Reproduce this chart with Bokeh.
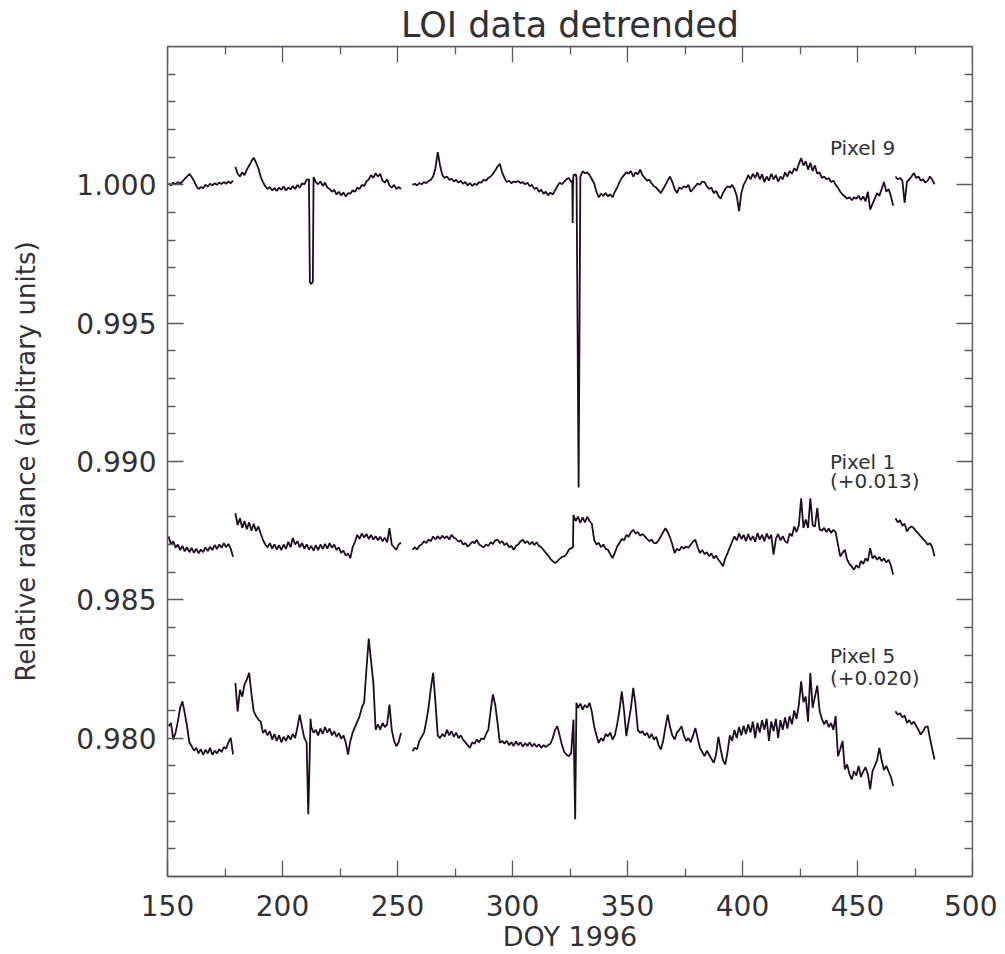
import math
from bokeh.plotting import figure
from bokeh.models import (FixedTicker, LinearAxis, Range1d, Label, PrintfTickFormatter,
                          CustomJSTickFormatter)
from bokeh.embed import file_html
from bokeh.resources import INLINE

# ---------------- data ----------------
# daily samples; each list is one continuous observing stretch
SEG_START = [150.5, 179.5, 256.5, 466.5]

P9 = [
    [1.00005, 0.99998, 1.00008, 1.00002, 1.00010, 1.00004, 1.00012, 1.00022, 1.00030, 1.00040,
     1.00028, 1.00015, 0.99996, 0.99985, 0.99992, 0.99988, 1.00000, 0.99994, 1.00004, 0.99998,
     1.00006, 1.00000, 1.00008, 1.00003, 1.00010, 1.00004, 1.00012, 1.00006, 1.00015],
    [1.00065, 1.00040, 1.00030, 1.00045, 1.00035, 1.00055, 1.00070, 1.00085, 1.00098, 1.00080,
     1.00060, 1.00030, 1.00010, 0.99995, 0.99985, 0.99992, 0.99980, 0.99988, 0.99978, 0.99990,
     0.99982, 0.99994, 0.99980, 0.99990, 0.99984, 0.99996, 0.99985, 1.00000, 0.99990, 1.00005,
     1.00002, 1.00018, 1.00020, 0.99642, 1.00028, 1.00010, 1.00002, 1.00012, 0.99996, 1.00008,
     0.99990, 0.99985, 0.99975, 0.99982, 0.99965, 0.99975, 0.99962, 0.99972, 0.99958, 0.99970,
     0.99968, 0.99980, 0.99975, 0.99990, 0.99985, 1.00000, 0.99995, 1.00012, 1.00020, 1.00035,
     1.00025, 1.00042, 1.00030, 1.00040, 1.00015, 1.00008, 1.00020, 0.99998, 0.99990, 1.00000,
     0.99985, 0.99992, 0.99985],
    [1.00000, 1.00004, 0.99998, 1.00006, 1.00002, 1.00010, 1.00006, 1.00014, 1.00018, 1.00030,
     1.00060, 1.00118, 1.00070, 1.00035, 1.00025, 1.00030, 1.00018, 1.00022, 1.00012, 1.00018,
     1.00008, 1.00014, 1.00004, 1.00010, 0.99998, 1.00006, 0.99996, 1.00004, 1.00000, 1.00010,
     1.00008, 1.00018, 1.00015, 1.00025, 1.00030, 1.00040, 1.00052, 1.00066, 1.00076, 1.00045,
     1.00025, 1.00010, 1.00015, 1.00006, 1.00012, 1.00010, 1.00014, 1.00006, 1.00010, 1.00002,
     1.00008, 0.99995, 1.00000, 0.99985, 0.99990, 0.99975, 0.99982, 0.99968, 0.99975, 0.99962,
     0.99972, 0.99965, 0.99980, 0.99995, 1.00008, 1.00002, 1.00012, 1.00020, 1.00025, 1.00010,
     1.00035, 1.00038, 0.99220, 1.00030, 1.00049, 1.00042, 1.00045, 1.00035, 1.00020, 1.00005,
     0.99975, 0.99955, 0.99968, 0.99960, 0.99970, 0.99958, 0.99966, 0.99955, 0.99975, 0.99990,
     1.00010, 1.00025, 1.00035, 1.00045, 1.00040, 1.00050, 1.00030, 1.00045, 1.00038, 1.00055,
     1.00035, 1.00025, 1.00015, 1.00018, 1.00005, 0.99995, 0.99990, 0.99980, 0.99970, 0.99985,
     1.00000, 1.00015, 1.00030, 1.00010, 0.99985, 0.99970, 0.99990, 0.99985, 0.99995, 0.99990,
     1.00000, 0.99975, 0.99985, 0.99995, 1.00005, 1.00000, 1.00012, 1.00010, 0.99995, 0.99985,
     0.99990, 0.99970, 0.99978, 0.99960, 0.99950, 0.99970, 0.99985, 0.99995, 0.99990, 1.00000,
     0.99985, 0.99960, 0.99905, 0.99970, 1.00000, 1.00015, 1.00035, 1.00020, 1.00040, 1.00025,
     1.00045, 1.00020, 1.00038, 1.00010, 1.00030, 1.00015, 1.00040, 1.00020, 1.00035, 1.00012,
     1.00030, 1.00020, 1.00045, 1.00030, 1.00050, 1.00040, 1.00060, 1.00050, 1.00075, 1.00097,
     1.00070, 1.00085, 1.00055, 1.00080, 1.00050, 1.00070, 1.00040, 1.00045, 1.00025, 1.00030,
     1.00020, 1.00025, 1.00010, 1.00015, 1.00000, 0.99990, 0.99975, 0.99965, 0.99958, 0.99950,
     0.99955, 0.99945, 0.99955, 0.99950, 0.99960, 0.99945, 0.99958, 0.99940, 0.99975, 0.99910,
     0.99930, 0.99950, 0.99970, 0.99960, 0.99985, 1.00010, 0.99975, 0.99985, 0.99960, 0.99925],
    [1.00030, 1.00020, 1.00025, 1.00015, 0.99935, 1.00010, 1.00020, 1.00030, 1.00043, 1.00025,
     1.00030, 1.00015, 1.00020, 1.00008, 1.00015, 1.00030, 1.00018, 1.00002],
]
P9_EXTRA_DOY = [211.9, 213.2, 326.0, 326.15, 326.3, 327.85, 328.75]
P9_EXTRA_VAL = [0.99648, 0.99650, 1.00015, 0.99862, 0.99990, 1.00025, 0.98906]

P1 = [
    [0.98729, 0.98700, 0.98712, 0.98688, 0.98700, 0.98680, 0.98695, 0.98675, 0.98690, 0.98672,
     0.98688, 0.98670, 0.98685, 0.98668, 0.98682, 0.98672, 0.98690, 0.98676, 0.98692, 0.98680,
     0.98698, 0.98684, 0.98700, 0.98688, 0.98705, 0.98690, 0.98702, 0.98685, 0.98656],
    [0.98813, 0.98770, 0.98795, 0.98760, 0.98785, 0.98755, 0.98780, 0.98750, 0.98775, 0.98748,
     0.98765, 0.98740, 0.98717, 0.98700, 0.98690, 0.98705, 0.98685, 0.98700, 0.98682, 0.98698,
     0.98680, 0.98700, 0.98684, 0.98710, 0.98690, 0.98724, 0.98700, 0.98712, 0.98690, 0.98705,
     0.98685, 0.98700, 0.98682, 0.98695, 0.98678, 0.98698, 0.98680, 0.98700, 0.98684, 0.98702,
     0.98685, 0.98705, 0.98688, 0.98700, 0.98680, 0.98690, 0.98670, 0.98678, 0.98660, 0.98668,
     0.98651, 0.98690, 0.98710, 0.98735, 0.98720, 0.98740, 0.98725, 0.98738, 0.98720, 0.98735,
     0.98718, 0.98730, 0.98715, 0.98728, 0.98712, 0.98725, 0.98708, 0.98759, 0.98700, 0.98690,
     0.98681, 0.98700, 0.98706],
    [0.98681, 0.98690, 0.98682, 0.98695, 0.98700, 0.98712, 0.98705, 0.98718, 0.98712, 0.98729,
     0.98718, 0.98730, 0.98720, 0.98732, 0.98722, 0.98730, 0.98718, 0.98735, 0.98725, 0.98720,
     0.98710, 0.98715, 0.98700, 0.98705, 0.98693, 0.98700, 0.98710, 0.98705, 0.98717, 0.98700,
     0.98695, 0.98689, 0.98700, 0.98695, 0.98708, 0.98702, 0.98715, 0.98717, 0.98705, 0.98712,
     0.98698, 0.98705, 0.98690, 0.98695, 0.98681, 0.98695, 0.98700, 0.98712, 0.98717, 0.98705,
     0.98712, 0.98700, 0.98710, 0.98698, 0.98708, 0.98695, 0.98690, 0.98680, 0.98670, 0.98660,
     0.98648, 0.98640, 0.98633, 0.98640, 0.98648, 0.98655, 0.98657, 0.98665, 0.98681, 0.98687,
     0.98807, 0.98785, 0.98801, 0.98778, 0.98798, 0.98780, 0.98800, 0.98785, 0.98775, 0.98717,
     0.98700, 0.98706, 0.98690, 0.98700, 0.98684, 0.98681, 0.98665, 0.98651, 0.98670, 0.98693,
     0.98705, 0.98720, 0.98715, 0.98735, 0.98728, 0.98745, 0.98753, 0.98740, 0.98745, 0.98732,
     0.98738, 0.98729, 0.98720, 0.98712, 0.98718, 0.98705, 0.98705, 0.98715, 0.98730, 0.98745,
     0.98759, 0.98745, 0.98725, 0.98700, 0.98669, 0.98685, 0.98678, 0.98692, 0.98685, 0.98693,
     0.98688, 0.98700, 0.98710, 0.98717, 0.98690, 0.98669, 0.98680, 0.98665, 0.98672, 0.98658,
     0.98668, 0.98650, 0.98660, 0.98645, 0.98635, 0.98621, 0.98650, 0.98669, 0.98690, 0.98710,
     0.98729, 0.98715, 0.98740, 0.98720, 0.98735, 0.98712, 0.98738, 0.98715, 0.98730, 0.98710,
     0.98741, 0.98718, 0.98735, 0.98712, 0.98740, 0.98720, 0.98735, 0.98663, 0.98720, 0.98738,
     0.98715, 0.98730, 0.98712, 0.98705, 0.98740, 0.98730, 0.98765, 0.98745, 0.98770, 0.98867,
     0.98760, 0.98790, 0.98760, 0.98867, 0.98770, 0.98765, 0.98832, 0.98755, 0.98750, 0.98760,
     0.98745, 0.98758, 0.98742, 0.98753, 0.98745, 0.98700, 0.98657, 0.98670, 0.98681, 0.98645,
     0.98630, 0.98620, 0.98609, 0.98625, 0.98615, 0.98640, 0.98630, 0.98650, 0.98640, 0.98687,
     0.98650, 0.98660, 0.98645, 0.98655, 0.98640, 0.98650, 0.98635, 0.98645, 0.98625, 0.98591],
    [0.98795, 0.98780, 0.98788, 0.98768, 0.98775, 0.98747, 0.98760, 0.98765, 0.98759, 0.98748,
     0.98740, 0.98729, 0.98720, 0.98712, 0.98699, 0.98705, 0.98690, 0.98657],
]
P1_EXTRA_DOY = [326.3]
P1_EXTRA_VAL = [0.98690]

P5 = [
    [0.98043, 0.98055, 0.97995, 0.98020, 0.98060, 0.98110, 0.98133, 0.98090, 0.98043, 0.97985,
     0.97971, 0.97955, 0.97965, 0.97945, 0.97960, 0.97940, 0.97958, 0.97945, 0.97965, 0.97940,
     0.97955, 0.97945, 0.97960, 0.97950, 0.97968, 0.97962, 0.97985, 0.98001, 0.97941],
    [0.98200, 0.98097, 0.98175, 0.98150, 0.98195, 0.98212, 0.98236, 0.98160, 0.98097, 0.98080,
     0.98067, 0.98060, 0.98019, 0.98030, 0.98010, 0.98025, 0.97995, 0.98015, 0.97990, 0.98010,
     0.97985, 0.98005, 0.97990, 0.98010, 0.97995, 0.98015, 0.98000, 0.98040, 0.98085, 0.98040,
     0.98000, 0.97985, 0.97820, 0.98040, 0.98020, 0.98030, 0.98010, 0.98035, 0.98015, 0.98040,
     0.98020, 0.98035, 0.98010, 0.98025, 0.98005, 0.98018, 0.97998, 0.98010, 0.97985, 0.97941,
     0.97990, 0.98020, 0.98040, 0.98060, 0.98079, 0.98110, 0.98129, 0.98250, 0.98360, 0.98280,
     0.98200, 0.98031, 0.98050, 0.98031, 0.98055, 0.98040, 0.98050, 0.98121, 0.98030, 0.97990,
     0.97971, 0.97985, 0.98019],
    [0.97953, 0.97965, 0.97960, 0.97990, 0.98005, 0.98019, 0.98060, 0.98110, 0.98180, 0.98236,
     0.98130, 0.98010, 0.98000, 0.98015, 0.98005, 0.98030, 0.98010, 0.98025, 0.98005, 0.98020,
     0.98000, 0.98010, 0.97995, 0.97985, 0.97975, 0.97965, 0.97985, 0.97980, 0.97995, 0.97985,
     0.98000, 0.97995, 0.98015, 0.98031, 0.98100, 0.98158, 0.98120, 0.98055, 0.97983, 0.97990,
     0.97980, 0.97990, 0.97975, 0.97985, 0.97972, 0.97988, 0.97975, 0.97985, 0.97970, 0.97982,
     0.97972, 0.97985, 0.97970, 0.97980, 0.97968, 0.97978, 0.97965, 0.97975, 0.97968, 0.97975,
     0.97980, 0.98000, 0.98030, 0.98043, 0.98010, 0.97975, 0.97950, 0.97940, 0.97935, 0.97945,
     0.98067, 0.97900, 0.98110, 0.98125, 0.98103, 0.98120, 0.98110, 0.98128, 0.98095, 0.98043,
     0.98010, 0.97983, 0.98000, 0.97990, 0.98015, 0.98007, 0.98020, 0.97995, 0.98010, 0.98050,
     0.98100, 0.98169, 0.98100, 0.98007, 0.98060, 0.98110, 0.98182, 0.98120, 0.98030, 0.98019,
     0.98025, 0.98010, 0.98019, 0.98000, 0.98015, 0.97995, 0.98005, 0.97975, 0.97959, 0.97990,
     0.98040, 0.98085, 0.98040, 0.98010, 0.97995, 0.98020, 0.98030, 0.98043, 0.98010, 0.97990,
     0.98000, 0.97985, 0.98010, 0.98037, 0.98000, 0.97965, 0.97950, 0.97935, 0.97955, 0.97940,
     0.97925, 0.97911, 0.97940, 0.98005, 0.97960, 0.97920, 0.97905, 0.97950, 0.98010, 0.97990,
     0.98030, 0.98000, 0.98040, 0.98010, 0.98045, 0.98015, 0.98050, 0.98020, 0.98060, 0.98000,
     0.98055, 0.98020, 0.98065, 0.98030, 0.98070, 0.97990, 0.98060, 0.98025, 0.98070, 0.98000,
     0.98065, 0.98030, 0.98075, 0.98035, 0.98080, 0.98050, 0.98100, 0.98070, 0.98120, 0.98205,
     0.98130, 0.98150, 0.98060, 0.98236, 0.98110, 0.98150, 0.98190, 0.98100, 0.98070, 0.98050,
     0.98065, 0.98040, 0.98055, 0.98030, 0.98080, 0.97935, 0.97960, 0.97990, 0.97887, 0.97905,
     0.97870, 0.97851, 0.97880, 0.97865, 0.97900, 0.97860, 0.97880, 0.97895, 0.97870, 0.97815,
     0.97880, 0.97900, 0.97920, 0.97965, 0.97920, 0.97885, 0.97900, 0.97880, 0.97860, 0.97827],
    [0.98097, 0.98085, 0.98090, 0.98075, 0.98082, 0.98055, 0.98065, 0.98050, 0.98060, 0.98045,
     0.98030, 0.98013, 0.98025, 0.98040, 0.98043, 0.98000, 0.97960, 0.97923],
]
P5_EXTRA_DOY = [211.2, 212.2, 327.25, 327.8]
P5_EXTRA_VAL = [0.97725, 0.98070, 0.97707, 0.98128]

X_TICKS = [150, 200, 250, 300, 350, 400, 450, 500]
X_MINOR = [175, 225, 275, 325, 375, 425, 475]
Y_TICKS = [0.980, 0.985, 0.990, 0.995, 1.000]
Y_MINOR = [0.976, 0.977, 0.978, 0.979, 0.981, 0.982, 0.983, 0.984, 0.986, 0.987, 0.988, 0.989,
           0.991, 0.992, 0.993, 0.994, 0.996, 0.997, 0.998, 0.999, 1.001, 1.002, 1.003, 1.004]

LABELS = [("Pixel 9", 1.00132), ("Pixel 1", 0.99000), ("(+0.013)", 0.98928),
          ("Pixel 5", 0.98296), ("(+0.020)", 0.98219)]

# ---------------- styling ----------------
FONT = "DejaVu Sans"
TEXT_COLOR = "#333035"
AXIS_COLOR = "#5e5862"
LINE_COLOR = "#1d0e1f"

p = figure(width=997, height=954,
           x_range=Range1d(150, 500), y_range=Range1d(0.975, 1.005),
           output_backend="svg", toolbar_location=None,
           min_border_left=167, min_border_right=25,
           min_border_top=45, min_border_bottom=77)
p.grid.visible = False
p.outline_line_color = AXIS_COLOR
p.outline_line_width = 1.3
p.background_fill_color = "white"
p.border_fill_color = "white"

p.title.text = "LOI data detrended"
p.title.align = "center"
p.title.text_font = FONT
p.title.text_font_size = "35px"
p.title.text_font_style = "normal"
p.title.text_color = TEXT_COLOR
p.title.standoff = 4


def segments(segs, extra_doy, extra_val):
    out = []
    for start, vals in zip(SEG_START, segs):
        pts = [(start + i, v) for i, v in enumerate(vals)]
        end = start + len(vals) - 1
        pts += [(d, v) for d, v in zip(extra_doy, extra_val) if start <= d <= end]
        pts.sort()
        out.append(pts)
    return out


for segs, ed, ev in [(P9, P9_EXTRA_DOY, P9_EXTRA_VAL),
                     (P1, P1_EXTRA_DOY, P1_EXTRA_VAL),
                     (P5, P5_EXTRA_DOY, P5_EXTRA_VAL)]:
    for pts in segments(segs, ed, ev):
        p.line([d for d, _ in pts], [v for _, v in pts], line_color=LINE_COLOR, line_width=1.8)


def style_axis(ax):
    ax.major_tick_in = 16
    ax.major_tick_out = 0
    ax.minor_tick_in = 8
    ax.minor_tick_out = 0
    ax.axis_line_color = AXIS_COLOR
    ax.axis_line_width = 1.3
    ax.major_tick_line_color = AXIS_COLOR
    ax.minor_tick_line_color = AXIS_COLOR
    ax.major_tick_line_width = 1.3
    ax.minor_tick_line_width = 1.3
    ax.major_label_text_font = FONT
    ax.major_label_text_color = TEXT_COLOR
    ax.major_label_text_font_size = "28px"
    ax.axis_label_text_font = FONT
    ax.axis_label_text_color = TEXT_COLOR
    ax.axis_label_text_font_style = "normal"


xt = FixedTicker(ticks=X_TICKS, minor_ticks=X_MINOR)
yt = FixedTicker(ticks=Y_TICKS, minor_ticks=Y_MINOR)

xa = p.xaxis[0]
ya = p.yaxis[0]
xa.ticker = xt
ya.ticker = yt
ya.formatter = PrintfTickFormatter(format="%.3f")
style_axis(xa)
style_axis(ya)
xa.major_label_standoff = 18
xa.major_label_text_line_height = 0.9
ya.major_label_standoff = 11
xa.axis_label = "DOY 1996"
xa.axis_label_text_font_size = "27px"
xa.axis_label_text_line_height = 0.9
xa.axis_label_standoff = 2
ya.axis_label = "Relative radiance (arbitrary units)"
ya.axis_label_text_font_size = "26px"
ya.axis_label_standoff = 32

blank = CustomJSTickFormatter(code="return ''")
top = LinearAxis(ticker=xt, formatter=blank, fixed_location=1.005)
style_axis(top)
p.add_layout(top, "above")
right = LinearAxis(ticker=yt, formatter=blank, fixed_location=500)
style_axis(right)
p.add_layout(right, "right")

for txt, yv in LABELS:
    p.add_layout(Label(x=438, y=yv, text=txt, text_align="left", text_baseline="middle",
                       text_font=FONT, text_font_size="20px", text_color=TEXT_COLOR))

open("out.html", "w").write(file_html(p, INLINE))
